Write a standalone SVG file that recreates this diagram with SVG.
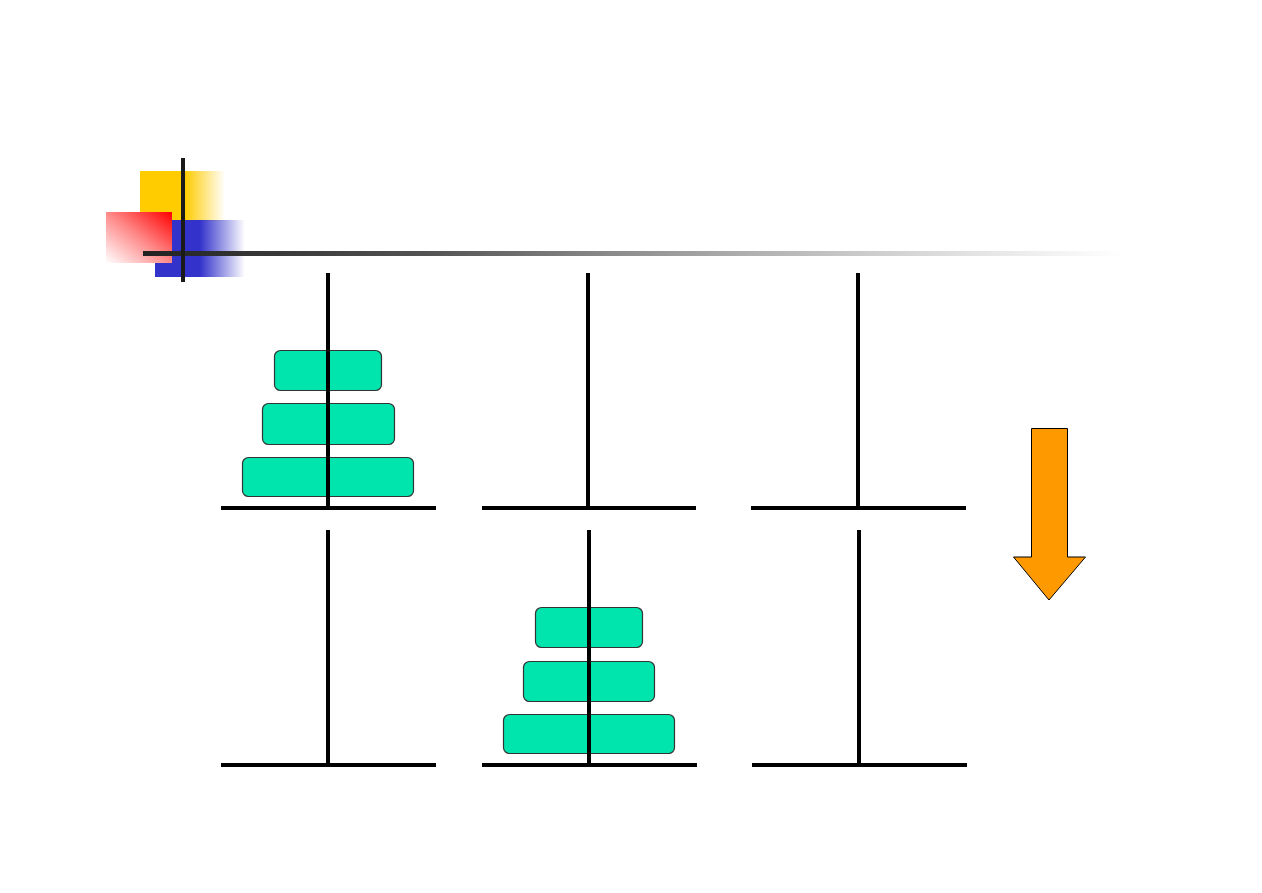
<svg xmlns="http://www.w3.org/2000/svg" width="1262" height="893" viewBox="0 0 1262 893">
<style>
.pole{stroke:#000;stroke-width:4;fill:none}
.disk{fill:#00E5AD;stroke:#333;stroke-width:1.2}
</style>
<defs>
<linearGradient id="gy" x1="0" y1="0" x2="1" y2="0">
<stop offset="0" stop-color="#FFCC00"/><stop offset="0.53" stop-color="#FFCC00"/><stop offset="1" stop-color="#FFCC00" stop-opacity="0"/>
</linearGradient>
<linearGradient id="gb" x1="0" y1="0" x2="1" y2="0">
<stop offset="0" stop-color="#3333CC"/><stop offset="0.5" stop-color="#3333CC"/><stop offset="1" stop-color="#3333CC" stop-opacity="0"/>
</linearGradient>
<linearGradient id="gr" x1="1" y1="0" x2="0" y2="1">
<stop offset="0" stop-color="#FF0000"/><stop offset="0.5" stop-color="#FF8A8A"/><stop offset="1" stop-color="#FFFFFF"/>
</linearGradient>
<linearGradient id="gl" x1="0" y1="0" x2="1" y2="0">
<stop offset="0" stop-color="#222"/><stop offset="0.3" stop-color="#555"/><stop offset="1" stop-color="#888" stop-opacity="0"/>
</linearGradient>
</defs>
<rect width="1262" height="893" fill="#fff"/>
<g id="logo">
<rect x="140" y="171" width="85" height="50" fill="url(#gy)"/>
<rect x="155" y="220" width="90" height="57" fill="url(#gb)"/>
<rect x="106" y="212" width="66" height="51" fill="url(#gr)"/>
<rect x="143" y="251" width="980" height="5" fill="url(#gl)"/>
<rect x="181" y="158" width="4" height="124" fill="#1a1a1a"/>
</g>
<g id="disks">
<rect class="disk" x="274.5" y="350.5" width="107" height="40" rx="6"/>
<rect class="disk" x="262.5" y="403.5" width="132" height="41" rx="6"/>
<rect class="disk" x="242.5" y="457.5" width="171" height="39" rx="6"/>
<rect class="disk" x="535.5" y="607.5" width="107" height="40" rx="6"/>
<rect class="disk" x="523.5" y="661.5" width="131" height="40" rx="6"/>
<rect class="disk" x="503.5" y="714.5" width="171" height="39" rx="6"/>
</g>
<g id="pegs">
<line class="pole" x1="328" y1="273" x2="328" y2="508"/>
<line class="pole" x1="221" y1="508" x2="436" y2="508"/>
<line class="pole" x1="588" y1="273" x2="588" y2="508"/>
<line class="pole" x1="482" y1="508" x2="696" y2="508"/>
<line class="pole" x1="858" y1="273" x2="858" y2="508"/>
<line class="pole" x1="751" y1="508" x2="966" y2="508"/>
<line class="pole" x1="328" y1="530" x2="328" y2="765"/>
<line class="pole" x1="221" y1="765" x2="436" y2="765"/>
<line class="pole" x1="589" y1="530" x2="589" y2="765"/>
<line class="pole" x1="482" y1="765" x2="697" y2="765"/>
<line class="pole" x1="859" y1="530" x2="859" y2="765"/>
<line class="pole" x1="752" y1="765" x2="967" y2="765"/>
</g>
<g id="arrow">
<polygon points="1031.5,428.5 1067.5,428.5 1067.5,557 1085.5,557 1049,600 1013.5,557 1031.5,557" fill="#FF9900" stroke="#000" stroke-width="1"/>
</g>
</svg>
